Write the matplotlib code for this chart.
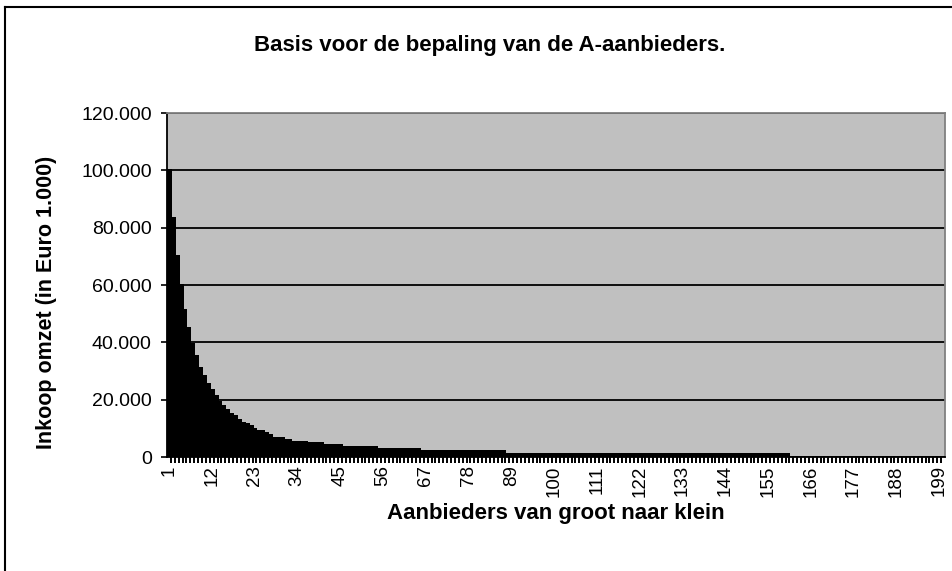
import matplotlib
matplotlib.use("Agg")
import matplotlib.pyplot as plt
from matplotlib.lines import Line2D
from matplotlib.ticker import FixedLocator, FuncFormatter

plt.rcParams['font.family'] = ['Liberation Sans', 'DejaVu Sans']

# Data: purchase turnover per supplier, sorted from large to small
top_values = [100000, 83400, 70000, 59900, 51400, 45000, 39500, 35100, 31000, 28100,
              25300, 23300, 21200, 19200, 17700, 16300, 15100, 14200, 12800, 12000,
              11400, 10800, 9800, 9000, 9000, 8200, 7600, 6700, 6700, 6700,
              6000, 6000, 5300, 5300, 5300, 5300, 4800, 4800, 4800, 4800,
              4100, 4100, 4100, 4100, 4100]
tail_values = [3400] * 9 + [2700] * 11 + [2000] * 22 + [1200] * 73 + [100] * 40
values = top_values + tail_values
suppliers = list(range(1, len(values) + 1))
label_ticks = list(range(1, 200, 11))

title = "Basis voor de bepaling van de A-aanbieders."
xlabel = "Aanbieders van groot naar klein"
ylabel = "Inkoop omzet (in Euro 1.000)"

fig = plt.figure(figsize=(9.52, 5.71), dpi=100)
ax = fig.add_axes([167 / 952, 1 - 457 / 571, 778 / 952, 344 / 571])
ax.set_facecolor('#c0c0c0')

ax.bar(suppliers, values, width=1.0, color='black', edgecolor='black',
       linewidth=0.3, antialiased=False, zorder=3)

ax.set_xlim(0.5, len(values) + 0.5)
ax.set_ylim(0, 120000)

# y axis
ax.set_yticks(range(0, 120001, 20000))
ax.yaxis.set_major_formatter(FuncFormatter(lambda v, p: f"{int(v):,}".replace(",", ".")))
ax.tick_params(axis='y', direction='out', length=4, width=1.2, labelsize=14, pad=7)
ax.yaxis.grid(True, color='black', linewidth=1.3, zorder=1)
ax.set_axisbelow(True)

# x axis: labels every 11 suppliers, small tick marks between every bar
ax.xaxis.set_major_locator(FixedLocator(label_ticks))
ax.set_xticklabels([str(t) for t in label_ticks], rotation=90)
ax.xaxis.set_minor_locator(FixedLocator([s + 0.5 for s in suppliers[:-1]]))
ax.tick_params(axis='x', which='major', length=0, labelsize=13.5, pad=6)
ax.tick_params(axis='x', which='minor', direction='out', length=4.5, width=1.4)

for side in ['left', 'bottom']:
    ax.spines[side].set_color('black')
    ax.spines[side].set_linewidth(1.3)
for side in ['top', 'right']:
    ax.spines[side].set_color('#808080')
    ax.spines[side].set_linewidth(1.3)

fig.text(490 / 952, 1 - 46 / 571, title, ha='center', va='center',
         fontsize=16, fontweight='bold')
fig.text(556 / 952, 1 - 513 / 571, xlabel, ha='center', va='center',
         fontsize=16, fontweight='bold')
fig.text(47 / 952, 1 - 302 / 571, ylabel, ha='center', va='center',
         rotation=90, fontsize=15.5, fontweight='bold')

# chart frame (left and top edges visible)
fig.add_artist(Line2D([5 / 952, 5 / 952], [0, 1 - 7 / 571], color='black', linewidth=1.5))
fig.add_artist(Line2D([5 / 952, 1], [1 - 7 / 571, 1 - 7 / 571], color='black', linewidth=1.5))

fig.savefig('out.png', dpi=100)
